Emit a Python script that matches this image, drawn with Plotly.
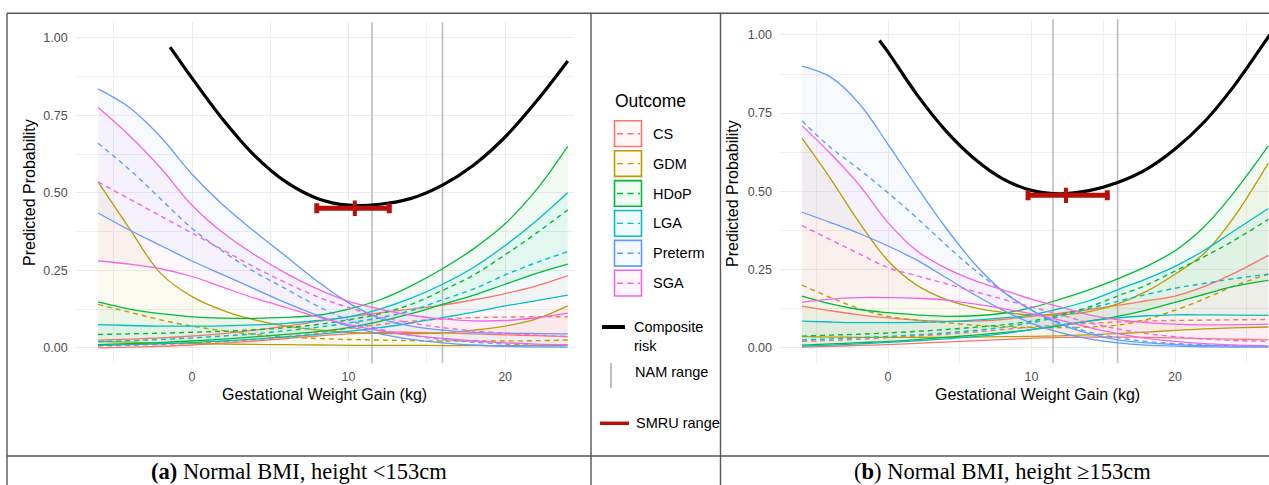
import plotly.graph_objects as go

# ---------------- data ----------------
OUTCOMES = ["CS", "GDM", "HDoP", "LGA", "Preterm", "SGA"]
COLORS = ["#F8766D", "#B79F00", "#00BA38", "#00BFC4", "#619CFF", "#F564E3"]

# Panel (a): Normal BMI, height <153cm
GWG_A = [-6, -4, -2, 0, 2, 4, 6, 8, 10, 12, 14, 16, 18, 20, 22, 24]
A_CS_LOW = [.000, .002, .005, .009, .015, .022, .030, .038, .045, .050, .050, .048, .045, .042, .039, .036]
A_CS_MID = [.006, .008, .011, .015, .020, .027, .036, .048, .062, .075, .086, .093, .097, .099, .100, .100]
A_CS_UPP = [.025, .028, .032, .038, .046, .057, .070, .085, .100, .113, .125, .138, .155, .175, .200, .233]
A_GDM_LOW = [.020, .018, .016, .014, .012, .011, .010, .009, .008, .008, .008, .007, .007, .007, .007, .008]
A_GDM_MID = [.140, .115, .090, .070, .055, .043, .035, .030, .027, .025, .023, .022, .022, .022, .023, .025]
A_GDM_UPP = [.535, .385, .240, .165, .120, .090, .070, .058, .050, .047, .046, .048, .057, .070, .093, .135]
A_HDOP_LOW = [.010, .013, .017, .022, .028, .035, .043, .052, .065, .085, .110, .140, .170, .205, .240, .270]
A_HDOP_MID = [.043, .045, .047, .050, .053, .058, .065, .075, .090, .110, .140, .185, .235, .300, .370, .445]
A_HDOP_UPP = [.148, .125, .110, .100, .096, .095, .098, .105, .125, .155, .200, .255, .320, .400, .510, .650]
A_LGA_LOW = [.008, .010, .013, .017, .022, .028, .035, .043, .053, .065, .080, .097, .115, .135, .152, .170]
A_LGA_MID = [.020, .023, .027, .032, .038, .045, .055, .066, .080, .097, .120, .155, .190, .235, .275, .310]
A_LGA_UPP = [.075, .072, .070, .070, .071, .074, .079, .088, .100, .125, .160, .205, .260, .330, .410, .500]
A_PRE_LOW = [.435, .380, .330, .280, .235, .190, .145, .105, .070, .045, .027, .016, .009, .005, .003, .002]
A_PRE_MID = [.660, .575, .480, .385, .310, .245, .190, .135, .090, .060, .040, .027, .018, .012, .008, .006]
A_PRE_UPP = [.835, .775, .680, .560, .460, .375, .295, .215, .145, .095, .070, .057, .050, .047, .046, .045]
A_SGA_LOW = [.280, .270, .255, .230, .195, .160, .130, .100, .075, .055, .040, .030, .022, .016, .012, .010]
A_SGA_MID = [.535, .480, .425, .370, .315, .260, .210, .165, .130, .100, .080, .065, .055, .047, .041, .036]
A_SGA_UPP = [.775, .685, .580, .460, .370, .300, .240, .190, .150, .125, .105, .093, .087, .088, .097, .112]
COMP_A_X = [-1.4, 0, 2, 4, 6, 8, 10, 12, 14, 16, 18, 20, 22, 24]
COMP_A_Y = [.970, .870, .735, .620, .535, .482, .460, .463, .482, .525, .590, .680, .795, .925]
SMRU_A = [7.97, 10.4, 12.6]   # low, mid, high
SMRU_A_Y = 0.45

# Panel (b): Normal BMI, height >=153cm
GWG_B = [-6, -4, -2, 0, 2, 4, 6, 8, 10, 12, 14, 16, 18, 20, 22, 24, 26.5]
B_CS_LOW = [.002, .004, .007, .010, .014, .018, .022, .026, .030, .033, .034, .034, .033, .031, .029, .027, .025]
B_CS_MID = [.020, .023, .027, .032, .037, .043, .050, .058, .066, .073, .078, .082, .085, .087, .088, .089, .090]
B_CS_UPP = [.133, .118, .105, .095, .088, .084, .085, .090, .100, .110, .122, .135, .150, .165, .195, .235, .295]
B_GDM_LOW = [.035, .034, .033, .033, .033, .033, .034, .035, .036, .038, .041, .045, .050, .055, .060, .063, .066]
B_GDM_MID = [.200, .160, .125, .100, .088, .080, .072, .067, .064, .064, .066, .072, .090, .120, .155, .195, .235]
B_GDM_UPP = [.670, .540, .400, .278, .200, .155, .128, .113, .105, .105, .115, .140, .180, .235, .300, .410, .590]
B_HDOP_LOW = [.008, .012, .016, .020, .026, .033, .040, .048, .058, .070, .085, .100, .120, .145, .170, .195, .215]
B_HDOP_MID = [.037, .040, .043, .047, .052, .058, .065, .073, .085, .105, .130, .165, .200, .245, .290, .340, .410]
B_HDOP_UPP = [.165, .140, .122, .112, .105, .100, .102, .110, .128, .155, .185, .220, .260, .310, .385, .490, .645]
B_LGA_LOW = [.005, .008, .012, .017, .022, .028, .035, .045, .058, .072, .085, .095, .102, .105, .105, .104, .103]
B_LGA_MID = [.025, .028, .032, .036, .041, .047, .055, .065, .080, .100, .125, .148, .170, .190, .205, .220, .235]
B_LGA_UPP = [.085, .082, .080, .080, .081, .083, .088, .095, .105, .125, .150, .185, .220, .260, .310, .370, .445]
B_PRE_LOW = [.433, .400, .365, .325, .280, .225, .170, .120, .078, .048, .028, .015, .008, .005, .003, .002, .002]
B_PRE_MID = [.725, .640, .570, .495, .415, .330, .250, .180, .120, .080, .050, .032, .020, .013, .009, .006, .004]
B_PRE_UPP = [.900, .865, .780, .650, .515, .385, .270, .180, .120, .075, .045, .025, .015, .010, .007, .005, .004]
B_SGA_LOW = [.145, .155, .160, .160, .158, .152, .140, .125, .108, .088, .065, .045, .030, .020, .013, .009, .006]
B_SGA_MID = [.390, .345, .300, .256, .230, .205, .180, .155, .130, .105, .080, .060, .045, .035, .028, .023, .020]
B_SGA_UPP = [.710, .620, .520, .400, .310, .255, .215, .185, .155, .130, .105, .090, .080, .075, .073, .073, .075]
COMP_B_X = [-0.6, 0, 2, 4, 6, 8, 10, 12, 14, 16, 18, 20, 22, 24, 26, 26.6]
COMP_B_Y = [.982, .945, .810, .695, .605, .540, .503, .492, .502, .528, .570, .635, .720, .830, .960, 1.0]
SMRU_B = [9.76, 12.4, 15.28]
SMRU_B_Y = 0.487

NAM_RANGE = [11.5, 16.0]
Y_TICKS = [0, 0.25, 0.5, 0.75, 1.0]
X_TICKS = [0, 10, 20]

A_LOW = [A_CS_LOW, A_GDM_LOW, A_HDOP_LOW, A_LGA_LOW, A_PRE_LOW, A_SGA_LOW]
A_MID = [A_CS_MID, A_GDM_MID, A_HDOP_MID, A_LGA_MID, A_PRE_MID, A_SGA_MID]
A_UPP = [A_CS_UPP, A_GDM_UPP, A_HDOP_UPP, A_LGA_UPP, A_PRE_UPP, A_SGA_UPP]
B_LOW = [B_CS_LOW, B_GDM_LOW, B_HDOP_LOW, B_LGA_LOW, B_PRE_LOW, B_SGA_LOW]
B_MID = [B_CS_MID, B_GDM_MID, B_HDOP_MID, B_LGA_MID, B_PRE_MID, B_SGA_MID]
B_UPP = [B_CS_UPP, B_GDM_UPP, B_HDOP_UPP, B_LGA_UPP, B_PRE_UPP, B_SGA_UPP]

# ---------------- helpers ----------------
W, H = 1269, 485
SANS = "Liberation Sans, Arial, sans-serif"
SERIF = "Liberation Serif, Times New Roman, serif"
RED = "#B80F0A"
NAM_COL = "#BDBDBD"


def fx(px):
    return px / W


def fy(py):
    return 1 - py / H


def rgba(hexcol, a):
    h = hexcol.lstrip("#")
    r, g, b = int(h[0:2], 16), int(h[2:4], 16), int(h[4:6], 16)
    return f"rgba({r},{g},{b},{a})"


fig = go.Figure()


def add_panel(xa, ya, gwg, lows, mids, upps, cx, cy, smru, smru_y):
    # NAM range lines
    for v in NAM_RANGE:
        fig.add_trace(go.Scatter(x=[v, v], y=[-0.06, 1.06], mode="lines",
                                 line=dict(color=NAM_COL, width=1.6),
                                 xaxis=xa, yaxis=ya, showlegend=False, hoverinfo="skip"))
    # ribbons
    for i, col in enumerate(COLORS):
        fig.add_trace(go.Scatter(x=gwg, y=lows[i], mode="lines", line=dict(width=0, shape="spline"),
                                 xaxis=xa, yaxis=ya, showlegend=False, hoverinfo="skip"))
        fig.add_trace(go.Scatter(x=gwg, y=upps[i], mode="lines", line=dict(width=0, shape="spline"),
                                 fill="tonexty", fillcolor=rgba(col, 0.055),
                                 xaxis=xa, yaxis=ya, showlegend=False, hoverinfo="skip"))
    # CI bounds and estimates
    for i, col in enumerate(COLORS):
        for arr in (lows[i], upps[i]):
            fig.add_trace(go.Scatter(x=gwg, y=arr, mode="lines",
                                     line=dict(color=col, width=1.3, shape="spline"),
                                     xaxis=xa, yaxis=ya, showlegend=False, name=OUTCOMES[i]))
        fig.add_trace(go.Scatter(x=gwg, y=mids[i], mode="lines",
                                 line=dict(color=col, width=1.4, dash="5px,4px", shape="spline"),
                                 xaxis=xa, yaxis=ya, showlegend=False, name=OUTCOMES[i]))
    # composite risk
    fig.add_trace(go.Scatter(x=cx, y=cy, mode="lines", line=dict(color="black", width=3.2, shape="spline"),
                             xaxis=xa, yaxis=ya, showlegend=False, name="Composite risk"))
    # SMRU range
    lo, mid, hi = smru
    fig.add_trace(go.Scatter(x=[mid], y=[smru_y], mode="markers",
                             marker=dict(symbol="line-ns", size=11, line=dict(width=4, color=RED)),
                             error_x=dict(type="data", symmetric=False, array=[hi - mid],
                                          arrayminus=[mid - lo], thickness=5, width=5, color=RED),
                             xaxis=xa, yaxis=ya, showlegend=False, name="SMRU range"))


add_panel("x", "y", GWG_A, A_LOW, A_MID, A_UPP, COMP_A_X, COMP_A_Y, SMRU_A, SMRU_A_Y)
add_panel("x2", "y2", GWG_B, B_LOW, B_MID, B_UPP, COMP_B_X, COMP_B_Y, SMRU_B, SMRU_B_Y)

axis_common = dict(showgrid=True, gridcolor="#EBEBEB", gridwidth=1.2, zeroline=False,
                   showline=False, ticks="", tickfont=dict(family=SANS, size=12.5, color="#4D4D4D"))

fig.update_layout(
    width=W, height=H, autosize=False,
    margin=dict(l=0, r=0, t=0, b=0),
    paper_bgcolor="white", plot_bgcolor="white",
    showlegend=False,
    xaxis=dict(domain=[fx(74.6), fx(574)], range=[-7.5, 24.4], anchor="y",
               tickvals=X_TICKS, ticklabelstandoff=4,
               minor=dict(dtick=5, tick0=0, showgrid=True, gridcolor="#EFEFEF", gridwidth=0.8),
               **axis_common),
    yaxis=dict(domain=[fy(363.3), fy(22.3)], range=[-0.05, 1.05], anchor="x",
               tickvals=Y_TICKS, tickformat=".2f", ticklabelstandoff=6,
               minor=dict(dtick=0.125, tick0=0, showgrid=True, gridcolor="#EFEFEF", gridwidth=0.8),
               **axis_common),
    xaxis2=dict(domain=[fx(779), 1.0], range=[-7.6, 26.55], anchor="y2",
                tickvals=X_TICKS, ticklabelstandoff=4,
                minor=dict(dtick=5, tick0=0, showgrid=True, gridcolor="#EFEFEF", gridwidth=0.8),
                **axis_common),
    yaxis2=dict(domain=[fy(363.3), fy(19.3)], range=[-0.05, 1.05], anchor="x2",
                tickvals=Y_TICKS, tickformat=".2f", ticklabelstandoff=6,
                minor=dict(dtick=0.125, tick0=0, showgrid=True, gridcolor="#EFEFEF", gridwidth=0.8),
                **axis_common),
)

ann = []
shapes = []

# axis titles
for (x, y, txt, ang) in [(30, 193, "Predicted Probability", -90),
                         (733, 193, "Predicted Probability", -90),
                         (324, 394, "Gestational Weight Gain (kg)", 0),
                         (1037, 394, "Gestational Weight Gain (kg)", 0)]:
    ann.append(dict(x=fx(x), y=fy(y), xref="paper", yref="paper", text=txt, textangle=ang,
                    showarrow=False, xanchor="center", yanchor="middle",
                    font=dict(family=SANS, size=16, color="black")))

# captions
ann.append(dict(x=fx(299), y=fy(471), xref="paper", yref="paper",
                text="<b>(a)</b> Normal BMI, height &lt;153cm", showarrow=False,
                xanchor="center", yanchor="middle", font=dict(family=SERIF, size=22.5, color="black")))
ann.append(dict(x=fx(1002), y=fy(471), xref="paper", yref="paper",
                text="(<b>b</b>) Normal BMI, height ≥153cm", showarrow=False,
                xanchor="center", yanchor="middle", font=dict(family=SERIF, size=22.5, color="black")))

# table borders
BORDER = "#555555"
for (x0, y0, x1, y1) in [(7, 13.3, W + 5, 13.3), (7, 456, W + 5, 456),
                         (7, 13.3, 7, H + 5), (591, 13.3, 591, H + 5), (720.5, 13.3, 720.5, H + 5)]:
    shapes.append(dict(type="line", xref="paper", yref="paper", x0=fx(x0), y0=fy(y0), x1=fx(x1), y1=fy(y1),
                       line=dict(color=BORDER, width=1.4)))

# legend
ann.append(dict(x=fx(613), y=fy(101), xref="paper", yref="paper", text="Outcome", showarrow=False,
                xanchor="left", yanchor="middle", font=dict(family=SANS, size=17.5, color="black")))
for i, (name, col) in enumerate(zip(OUTCOMES, COLORS)):
    top = 120 + 29.9 * i
    shapes.append(dict(type="rect", xref="paper", yref="paper", x0=fx(614.5), x1=fx(641.5),
                       y0=fy(top + 0.8), y1=fy(top + 26.5), line=dict(color=col, width=1.6),
                       fillcolor=rgba(col, 0.06)))
    shapes.append(dict(type="line", xref="paper", yref="paper", x0=fx(617), x1=fx(640),
                       y0=fy(top + 13.7), y1=fy(top + 13.7), line=dict(color=col, width=1.4, dash="6px,4.5px")))
    ann.append(dict(x=fx(651), y=fy(top + 13.7), xref="paper", yref="paper", text=name, showarrow=False,
                    xanchor="left", yanchor="middle", font=dict(family=SANS, size=14.5, color="black")))

shapes.append(dict(type="line", xref="paper", yref="paper", x0=fx(602), x1=fx(625), y0=fy(327), y1=fy(327),
                   line=dict(color="black", width=4)))
ann.append(dict(x=fx(632), y=fy(336), xref="paper", yref="paper", text="Composite<br>risk", showarrow=False,
                xanchor="left", yanchor="middle", align="left", font=dict(family=SANS, size=14.5, color="black")))
shapes.append(dict(type="line", xref="paper", yref="paper", x0=fx(611), x1=fx(611), y0=fy(363), y1=fy(388),
                   line=dict(color=NAM_COL, width=2)))
ann.append(dict(x=fx(633), y=fy(372), xref="paper", yref="paper", text="NAM range", showarrow=False,
                xanchor="left", yanchor="middle", font=dict(family=SANS, size=14.5, color="black")))
shapes.append(dict(type="line", xref="paper", yref="paper", x0=fx(600), x1=fx(629), y0=fy(423.3), y1=fy(423.3),
                   line=dict(color=RED, width=3.5)))
ann.append(dict(x=fx(634), y=fy(423), xref="paper", yref="paper", text="SMRU range", showarrow=False,
                xanchor="left", yanchor="middle", font=dict(family=SANS, size=14.5, color="black")))

fig.update_layout(annotations=ann, shapes=shapes)
fig.write_html("out.html", config={"displayModeBar": False},
               post_script="document.body.style.margin='0';document.body.style.overflow='hidden';")
